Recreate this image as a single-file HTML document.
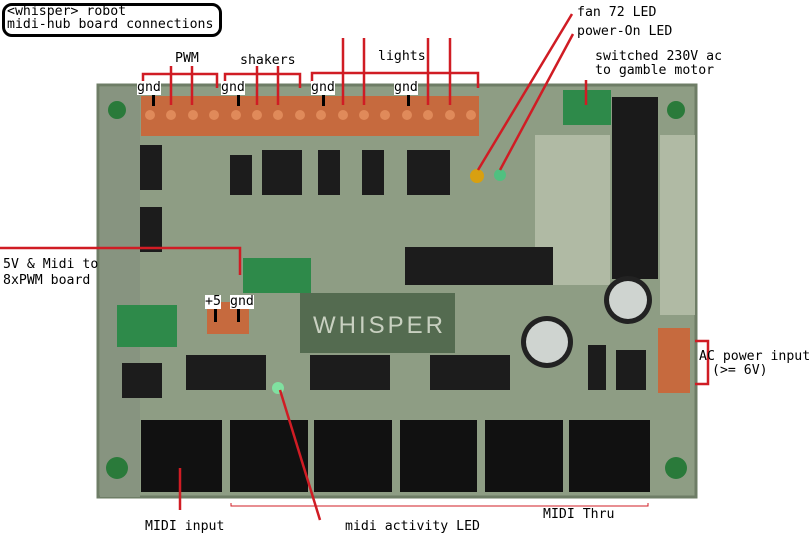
<!DOCTYPE html>
<html><head><meta charset="utf-8"><style>
body{margin:0;width:812px;height:539px;background:#fff;overflow:hidden;position:relative;font-family:"DejaVu Sans Mono","Liberation Mono",monospace;}
.t{position:absolute;font-size:13.2px;color:#000;white-space:nowrap;line-height:14px}
.box{position:absolute;left:2px;top:3px;width:214px;height:28px;border:3px solid #000;border-radius:10px;}
</style></head><body>
<div class="box"></div>
<div class="t" style="left:7px;top:5px">&lt;whisper&gt; robot</div>
<div class="t" style="left:7px;top:18px">midi-hub board connections</div>
<svg width="812" height="539" style="position:absolute;left:0;top:0">
<rect x="98" y="85" width="598" height="412" fill="#8e9d84"/>
<rect x="98" y="85" width="598" height="412" fill="none" stroke="#6e7d66" stroke-width="3"/>
<rect x="100" y="87" width="40" height="410" fill="#879480"/>
<rect x="535" y="135" width="75" height="150" fill="#b0baa4"/>
<rect x="660" y="135" width="35" height="180" fill="#b0baa4"/>
<rect x="141" y="96" width="338" height="40" fill="#c66a3e"/>
<g fill="#e08a5a">
<circle cx="150" cy="115" r="5"/><circle cx="171" cy="115" r="5"/><circle cx="193" cy="115" r="5"/><circle cx="214" cy="115" r="5"/><circle cx="236" cy="115" r="5"/><circle cx="257" cy="115" r="5"/><circle cx="278" cy="115" r="5"/><circle cx="300" cy="115" r="5"/><circle cx="321" cy="115" r="5"/><circle cx="343" cy="115" r="5"/><circle cx="364" cy="115" r="5"/><circle cx="385" cy="115" r="5"/><circle cx="407" cy="115" r="5"/><circle cx="428" cy="115" r="5"/><circle cx="450" cy="115" r="5"/><circle cx="471" cy="115" r="5"/></g>
<rect x="563" y="90" width="48" height="35" fill="#2e8a4a"/>
<rect x="243" y="258" width="68" height="35" fill="#2e8a4a"/>
<rect x="117" y="305" width="60" height="42" fill="#2e8a4a"/>
<rect x="207" y="302" width="42" height="32" fill="#c66a3e"/>
<rect x="658" y="328" width="32" height="65" fill="#c66a3e"/>
<rect x="612" y="97" width="46" height="182" fill="#1a1a1a"/>
<g fill="#1c1c1c">
<rect x="140" y="145" width="22" height="45"/><rect x="140" y="207" width="22" height="45"/>
<rect x="230" y="155" width="22" height="40"/><rect x="262" y="150" width="22" height="45"/><rect x="280" y="150" width="22" height="45"/>
<rect x="318" y="150" width="22" height="45"/><rect x="362" y="150" width="22" height="45"/><rect x="407" y="150" width="22" height="45"/><rect x="428" y="150" width="22" height="45"/>
<rect x="405" y="247" width="148" height="38"/>
<rect x="186" y="355" width="80" height="35"/><rect x="310" y="355" width="80" height="35"/><rect x="430" y="355" width="80" height="35"/><rect x="122" y="363" width="40" height="35"/>
<rect x="588" y="345" width="18" height="45"/><rect x="616" y="350" width="30" height="40"/>
</g>
<rect x="300" y="293" width="155" height="60" fill="#546b50"/>
<text x="313" y="333" font-family="Liberation Sans" font-size="24" fill="#c8d0c0" letter-spacing="3">WHISPER</text>
<circle cx="547" cy="342" r="26" fill="#222"/><circle cx="547" cy="342" r="21" fill="#cfd4d0"/>
<circle cx="628" cy="300" r="24" fill="#222"/><circle cx="628" cy="300" r="19" fill="#cfd4d0"/>
<circle cx="477" cy="176" r="7" fill="#d8a010"/><circle cx="500" cy="175" r="6" fill="#50c080"/><circle cx="278" cy="388" r="6" fill="#80e0a0"/>
<g fill="#111">
<rect x="141" y="420" width="81" height="72"/><rect x="230" y="420" width="78" height="72"/><rect x="314" y="420" width="78" height="72"/><rect x="400" y="420" width="77" height="72"/><rect x="485" y="420" width="78" height="72"/><rect x="569" y="420" width="81" height="72"/>
</g>
<g fill="#2a7a3a"><circle cx="117" cy="468" r="11"/><circle cx="676" cy="468" r="11"/><circle cx="117" cy="110" r="9"/><circle cx="676" cy="110" r="9"/></g>
<g stroke="#d01c24" stroke-width="2.5" fill="none">
<path d="M143 88 V74 H217 V88"/><path d="M225 88 V74 H300 V88"/><path d="M312 82 V73 H478 V88"/>
<path d="M171 66 V105 M192 66 V105 M257 66 V105 M278 66 V105"/>
<path d="M343 38 V105 M364 38 V105 M428 38 V105 M450 38 V105"/>
<path d="M572 14 L478 170 M573 34 L500 170"/>
<path d="M586 80 V105"/>
<path d="M0 248 H240 V275"/>
<path d="M695 341 H708 V384 H695"/>
<path d="M180 468 V510"/><path d="M280 390 L320 520"/>
</g>
<path d="M231 503 V506 H648 V503" stroke="#d01c24" stroke-width="1" fill="none"/>
<g fill="#000"><rect x="152" y="92" width="3" height="14"/><rect x="237" y="92" width="3" height="14"/><rect x="322" y="92" width="3" height="14"/><rect x="407" y="92" width="3" height="14"/><rect x="214" y="308" width="3" height="14"/><rect x="237" y="308" width="3" height="14"/></g>
</svg>
<div class="t" style="left:175px;top:52px">PWM</div>
<div class="t" style="left:240px;top:54px">shakers</div>
<div class="t" style="left:378px;top:50px">lights</div>
<div class="t" style="left:577px;top:6px">fan 72 LED</div>
<div class="t" style="left:577px;top:25px">power-On LED</div>
<div class="t" style="left:595px;top:50px">switched 230V ac</div>
<div class="t" style="left:595px;top:64px">to gamble motor</div>
<div class="t" style="left:137px;top:81px;background:#fff">gnd</div>
<div class="t" style="left:221px;top:81px;background:#fff">gnd</div>
<div class="t" style="left:311px;top:81px;background:#fff">gnd</div>
<div class="t" style="left:394px;top:81px;background:#fff">gnd</div>
<div class="t" style="left:205px;top:295px;background:#fff">+5</div>
<div class="t" style="left:230px;top:295px;background:#fff">gnd</div>
<div class="t" style="left:3px;top:258px">5V &amp; Midi to</div>
<div class="t" style="left:3px;top:274px">8xPWM board</div>
<div class="t" style="left:699px;top:350px">AC power input</div>
<div class="t" style="left:712px;top:364px">(&gt;= 6V)</div>
<div class="t" style="left:145px;top:520px">MIDI input</div>
<div class="t" style="left:345px;top:520px">midi activity LED</div>
<div class="t" style="left:543px;top:508px">MIDI Thru</div>
</body></html>
